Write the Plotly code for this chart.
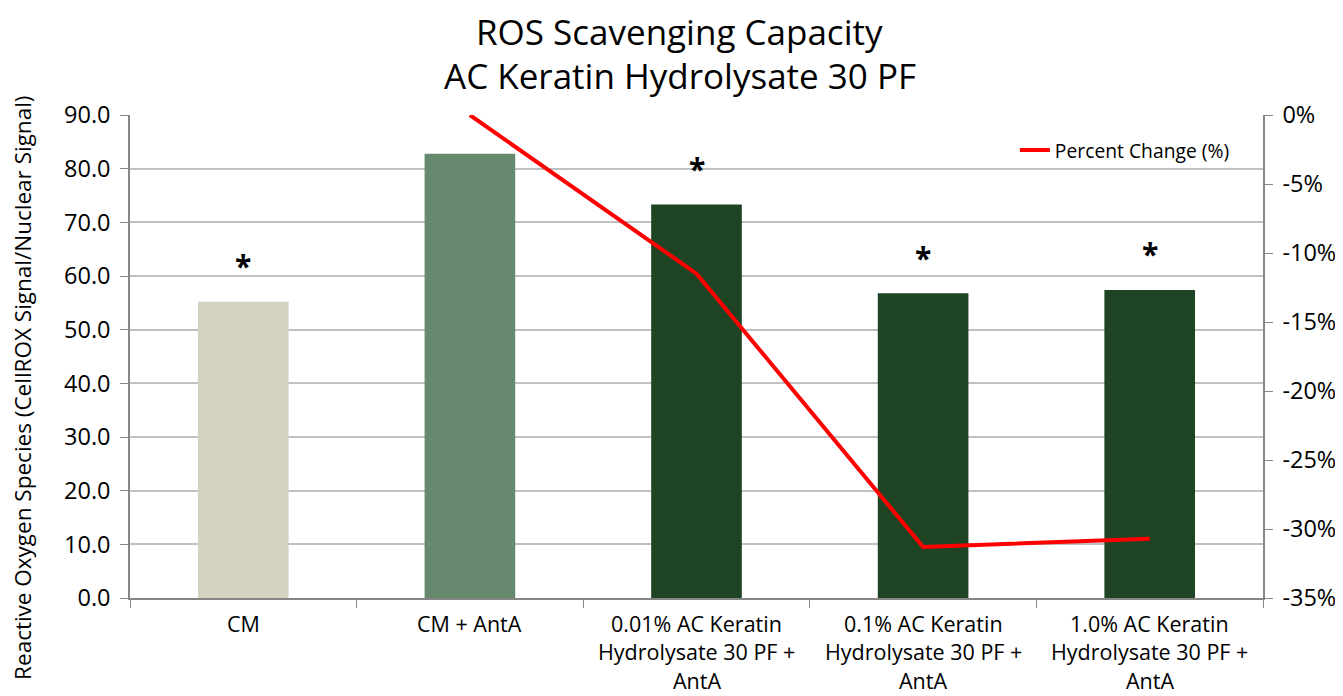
import plotly.graph_objects as go

title_lines = ["ROS Scavenging Capacity", "AC Keratin Hydrolysate 30 PF"]
categories = ["CM", "CM + AntA", "0.01% AC Keratin<br>Hydrolysate 30 PF +<br>AntA",
              "0.1% AC Keratin<br>Hydrolysate 30 PF +<br>AntA",
              "1.0% AC Keratin<br>Hydrolysate 30 PF +<br>AntA"]
ros_values = [55.2, 82.8, 73.3, 56.8, 57.4]
bar_colors = ["#D3D3BF", "#678A6F", "#1F4423", "#1F4423", "#1F4423"]
pct_categories = categories[1:]
pct_change = [0.0, -0.115, -0.313, -0.307]
significant = [True, False, True, True, True]
left_ticks = [0, 10, 20, 30, 40, 50, 60, 70, 80, 90]
right_ticks = [0, -0.05, -0.10, -0.15, -0.20, -0.25, -0.30, -0.35]
right_ticktext = ["0%", "-5%", "-10%", "-15%", "-20%", "-25%", "-30%", "-35%"]

FONT = "Open Sans"
AXIS = "#868686"

fig = go.Figure()
fig.add_trace(go.Bar(x=categories, y=ros_values, marker=dict(color=bar_colors, line=dict(width=0)),
                     width=0.4, showlegend=False))
fig.add_trace(go.Scatter(x=pct_categories, y=pct_change, yaxis="y2", mode="lines",
                         line=dict(color="#FF0000", width=4), name="Percent Change (%)"))

for cat, val, sig in zip(categories, ros_values, significant):
    if sig:
        fig.add_annotation(x=cat, y=val, text="<b>*</b>", showarrow=False, yanchor="middle",
                           yshift=36, font=dict(size=30, color="black", family=FONT))

# x labels with Excel-like line spacing
for cat in categories:
    for i, line in enumerate(cat.split("<br>")):
        fig.add_annotation(x=cat, y=0, yref="paper", text=line, showarrow=False,
                           yanchor="middle", yshift=-25 - 28.5 * i,
                           font=dict(size=21.5, color="black", family=FONT))

# title lines (centred on the whole chart width, as in Excel)
for i, line in enumerate(title_lines):
    fig.add_annotation(x=0.4854, xref="paper", y=1, yref="paper", text=line, showarrow=False,
                       xanchor="center", yanchor="middle", yshift=84 - 44 * i, borderpad=0,
                       font=dict(size=35, color="black", family=FONT))

# y-axis title (Excel centres it on the whole chart height)
fig.add_annotation(x=0, xref="paper", xshift=-107, y=0.435, yref="paper",
                   text="Reactive Oxygen Species (CellROX Signal/Nuclear Signal)",
                   textangle=-90, showarrow=False, xanchor="center", yanchor="middle", borderpad=0,
                   font=dict(size=22.5, color="black", family=FONT))

fig.update_layout(
    width=1335, height=688,
    margin=dict(l=122, r=80, t=107, b=98),
    paper_bgcolor="white", plot_bgcolor="white",
    font=dict(family=FONT, color="black", size=20),
    bargap=0.6,
    xaxis=dict(showticklabels=False, showline=True, linecolor=AXIS, linewidth=1.5,
               ticks="outside", tickcolor=AXIS, ticklen=8, tickson="boundaries",
               range=[-0.5, 4.5], automargin=False),
    yaxis=dict(range=[0, 90], tickvals=left_ticks, tickformat=".1f", showgrid=True,
               gridcolor="#C0C0C0", gridwidth=1.5, showline=True, linecolor=AXIS, linewidth=1.5,
               ticks="outside", tickcolor=AXIS, ticklen=8, zeroline=False, automargin=False,
               ticklabelstandoff=5, tickfont=dict(size=23.5, family=FONT)),
    yaxis2=dict(range=[-0.35, 0], overlaying="y", side="right", tickvals=right_ticks,
                ticktext=right_ticktext, showgrid=False, showline=True, linecolor=AXIS,
                linewidth=1.5, ticks="outside", tickcolor=AXIS, ticklen=8, zeroline=False,
                automargin=False, ticklabelstandoff=5, tickfont=dict(size=23.5, family=FONT)),
    legend=dict(x=0.781, y=0.967, xanchor="left", yanchor="top", bgcolor="rgba(0,0,0,0)",
                font=dict(size=19.3, family=FONT)),
)

fig.write_html("out.html")
